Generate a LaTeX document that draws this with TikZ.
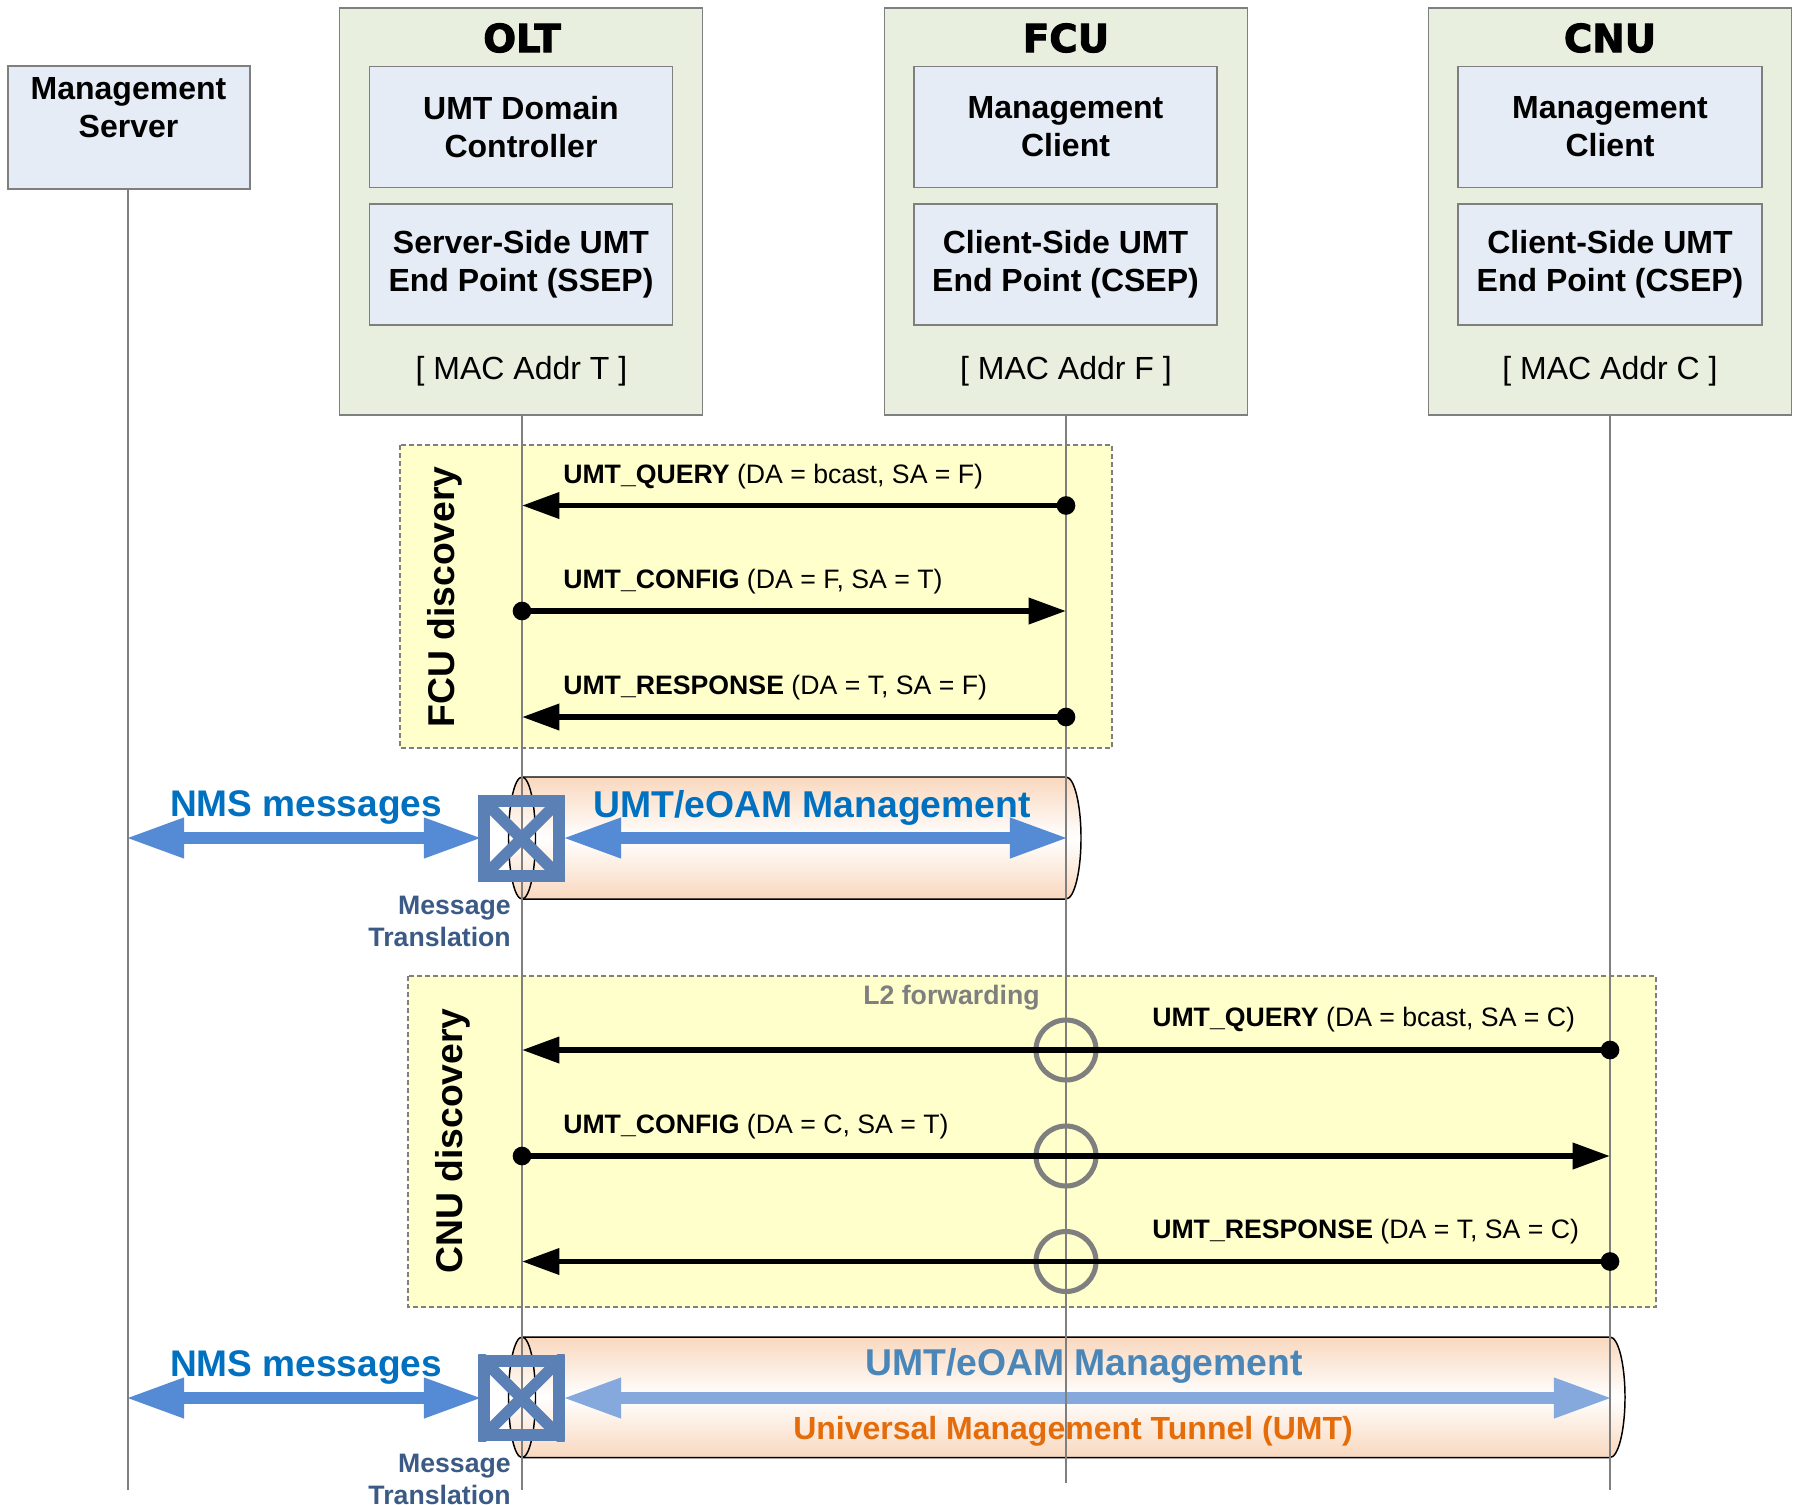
\documentclass[tikz,border=0pt]{standalone}
\usepackage{fontspec}
\setmainfont{Liberation Sans}
\newfontfamily\heavyf[FakeBold=2.5]{DejaVu Sans Bold}
\usetikzlibrary{arrows.meta}
\definecolor{devgreen}{HTML}{E9EFDF}
\definecolor{boxblue}{HTML}{E6ECF6}
\definecolor{lineg}{HTML}{7F7F7F}
\definecolor{bandy}{HTML}{FFFFCC}
\definecolor{tubeo}{HTML}{F9D8BE}
\definecolor{crossb}{HTML}{5B80B5}
\definecolor{blk}{HTML}{558AD5}
\definecolor{blklt}{HTML}{85A9DC}
\definecolor{nmsb}{HTML}{0070C0}
\definecolor{umtlt}{HTML}{4A87B8}
\definecolor{transb}{HTML}{3B5A85}
\definecolor{orangeu}{HTML}{E46C0A}
\tikzset{
 x=0.75pt,y=-0.75pt,
 device/.style={draw=lineg,line width=1.1pt,fill=devgreen,inner sep=0pt,minimum width=272.5pt,minimum height=305pt},
 bluebox/.style={draw=lineg,line width=1.1pt,fill=boxblue,inner sep=0pt,align=center,font=\fontsize{24}{28.5}\selectfont\bfseries},
 headt/.style={font=\fontsize{29}{30}\heavyf,inner sep=0pt},
 mact/.style={font=\fontsize{24}{28}\selectfont,inner sep=0pt},
 band/.style={draw=lineg,line width=1.1pt,dash pattern=on 3.5pt off 2.5pt,fill=bandy},
 vlab/.style={rotate=90,font=\fontsize{28}{30}\selectfont\bfseries,inner sep=0pt},
 life/.style={draw=lineg,line width=1.1pt},
 msg/.style={draw=black,line width=4.4pt},
 msgh/.style={msg,-{Triangle[length=28pt,width=19pt]}},
 dotn/.style={circle,fill=black,inner sep=0pt,minimum size=14pt},
 lab/.style={anchor=west,inner sep=0pt,font=\fontsize{20}{24}\selectfont},
 bigb/.style={draw=blk,line width=9pt,{Triangle[length=44pt,width=28pt]}-{Triangle[length=44pt,width=28pt]}},
 bigl/.style={bigb,draw=blklt},
 nmst/.style={inner sep=0pt,text=nmsb,font=\fontsize{27.8}{30}\selectfont\bfseries},
 umtt/.style={inner sep=0pt,font=\fontsize{28}{30}\selectfont\bfseries},
 transt/.style={inner sep=0pt,anchor=east,align=right,text=transb,font=\fontsize{20}{24}\selectfont\bfseries},
 ringn/.style={circle,draw=lineg,line width=3.8pt,minimum size=45pt,inner sep=0pt},
 tube/.style={draw=black,line width=1.1pt,top color=tubeo,bottom color=tubeo,middle color=white},
 crossbox/.style={draw=crossb,line width=9pt,minimum width=56pt,minimum height=56pt,inner sep=0pt},
}
\begin{document}
\begin{tikzpicture}
\useasboundingbox (0,0) rectangle (1798,1504);
\fill[white] (0,0) rectangle (1798,1504);
% devices
\node[device] (olt) at (521,211.5) {};
\node[device] (fcu) at (1066,211.5) {};
\node[device] (cnu) at (1610,211.5) {};
\node[headt] (oltt) at (522,38) {OLT};
\node[headt] (fcut) at (1066,38) {FCU};
\node[headt] (cnut) at (1610,38) {CNU};
\node[draw=lineg,line width=1.1pt,fill=boxblue,inner sep=0pt,minimum width=181.5pt,minimum height=92pt] (ms) at (129,127.5) {};
\node[inner sep=0pt,align=center,font=\fontsize{24}{28.5}\selectfont\bfseries] (mst) at (128.5,108) {Management\\Server};
\node[bluebox,minimum width=227pt,minimum height=90.5pt] (o1) at (521,127) {UMT Domain\\Controller};
\node[bluebox,minimum width=227pt,minimum height=91pt] (o2) at (521,264.5) {Server-Side UMT\\End Point (SSEP)};
\node[bluebox,minimum width=227pt,minimum height=90.5pt] (f1) at (1065.5,127) {Management\\Client};
\node[bluebox,minimum width=227pt,minimum height=91pt] (f2) at (1065.5,264.5) {Client-Side UMT\\End Point (CSEP)};
\node[bluebox,minimum width=228pt,minimum height=90.5pt] (c1) at (1610,127) {Management\\Client};
\node[bluebox,minimum width=228pt,minimum height=91pt] (c2) at (1610,264.5) {Client-Side UMT\\End Point (CSEP)};
\node[mact] (om) at (521.5,371.5) {[ MAC Addr T ]};
\node[mact] (fm) at (1066,371.5) {[ MAC Addr F ]};
\node[mact] (cm) at (1610,371.5) {[ MAC Addr C ]};
% bands
\path[band] (400,445) rectangle (1112,748);
\path[band] (408,976) rectangle (1656,1307);
\node[vlab] (fd) at (445,597) {FCU discovery};
\node[vlab] (cd) at (453,1141) {CNU discovery};
% tubes
\path[tube] (522,777) -- (1066,777) arc[start angle=-90,end angle=90,x radius=15,y radius=61] -- (522,899) -- cycle;
\path[tube] (522,838) ellipse[x radius=13.5,y radius=61];
\path[tube] (522,1337) -- (1610,1337) arc[start angle=-90,end angle=90,x radius=15,y radius=60.25] -- (522,1457.5) -- cycle;
\path[tube] (522,1397.25) ellipse[x radius=13.5,y radius=60.25];
% tube labels
\node[nmst] (n1) at (306,807.5) {NMS messages};
\node[umtt,text=nmsb] (u1) at (812,807.5) {UMT/eOAM Management};
\node[nmst] (n2) at (306,1367) {NMS messages};
\node[umtt,text=umtlt] (u2) at (1084,1366) {UMT/eOAM Management};
\node[inner sep=0pt,text=orangeu,font=\fontsize{24}{28}\selectfont\bfseries] (u3) at (1073,1431) {Universal Management Tunnel (UMT)};
% thick arrows
\coordinate (a1l) at (125.5,838);
\coordinate (a1r) at (482.5,838);
\coordinate (a2l) at (562.5,838);
\coordinate (a2r) at (1068.5,838);
\coordinate (a3l) at (125.5,1398);
\coordinate (a3r) at (482.5,1398);
\coordinate (a4l) at (562.5,1398);
\coordinate (a4r) at (1612.5,1398);
\draw[bigb] (a1l) -- (a1r);
\draw[bigb] (a2l) -- (a2r);
\draw[bigb] (a3l) -- (a3r);
\draw[bigl] (a4l) -- (a4r);
% lifelines
\coordinate (mse) at (128,1490);
\coordinate (ole) at (522,1490);
\coordinate (fce) at (1066,1483);
\coordinate (cne) at (1610,1490);
\draw[life] (ms.south -| mse) -- (mse);
\draw[life] (olt.south -| ole) -- (ole);
\draw[life] (fcu.south -| fce) -- (fce);
\draw[life] (cnu.south -| cne) -- (cne);
% crosses
\node[crossbox] (x1) at (521.5,838.5) {};
\begin{scope}
\clip (x1.north west) rectangle (x1.south east);
\draw[crossb,line width=8.5pt] (x1.north west) -- (x1.south east) (x1.north east) -- (x1.south west);
\end{scope}
\node[crossbox] (x2) at (521.5,1398) {};
\begin{scope}
\clip (x2.north west) rectangle (x2.south east);
\draw[crossb,line width=8.5pt] (x2.north west) -- (x2.south east) (x2.north east) -- (x2.south west);
\end{scope}
\node[transt] (t1) at (511,921) {Message\\Translation};
\node[transt] (t2) at (511,1479) {Message\\Translation};
% rings
\node[ringn] (r1) at (1066,1050) {};
\node[ringn] (r2) at (1066,1156) {};
\node[ringn] (r3) at (1066,1261.5) {};
\node[inner sep=0pt,text=lineg,font=\fontsize{20}{24}\selectfont\bfseries] (l2) at (951.5,998) {L2 forwarding};
% messages
\coordinate (m1o) at (522,505.5);
\node[dotn] (m1f) at (1066,505.5) {};
\draw[msgh] (m1f.center) -- (m1o);
\node[dotn] (m2o) at (522,611) {};
\coordinate (m2f) at (1066,611);
\draw[msgh] (m2o.center) -- (m2f);
\coordinate (m3o) at (522,717);
\node[dotn] (m3f) at (1066,717) {};
\draw[msgh] (m3f.center) -- (m3o);
\coordinate (m4o) at (522,1050);
\node[dotn] (m4c) at (1610,1050) {};
\draw[msgh] (m4c.center) -- (m4o);
\node[dotn] (m5o) at (522,1156) {};
\coordinate (m5c) at (1610,1156);
\draw[msgh] (m5o.center) -- (m5c);
\coordinate (m6o) at (522,1261.5);
\node[dotn] (m6c) at (1610,1261.5) {};
\draw[msgh] (m6c.center) -- (m6o);
\node[lab] (l1) at (563,477) {\textbf{UMT\_QUERY} (DA = bcast, SA = F)};
\node[lab] (l3) at (563,582) {\textbf{UMT\_CONFIG} (DA = F, SA = T)};
\node[lab] (l4) at (563,688) {\textbf{UMT\_RESPONSE} (DA = T, SA = F)};
\node[lab] (l5) at (1152,1020) {\textbf{UMT\_QUERY} (DA = bcast, SA = C)};
\node[lab] (l6) at (563,1127) {\textbf{UMT\_CONFIG} (DA = C, SA = T)};
\node[lab] (l7) at (1152,1232) {\textbf{UMT\_RESPONSE} (DA = T, SA = C)};
\end{tikzpicture}
\end{document}
